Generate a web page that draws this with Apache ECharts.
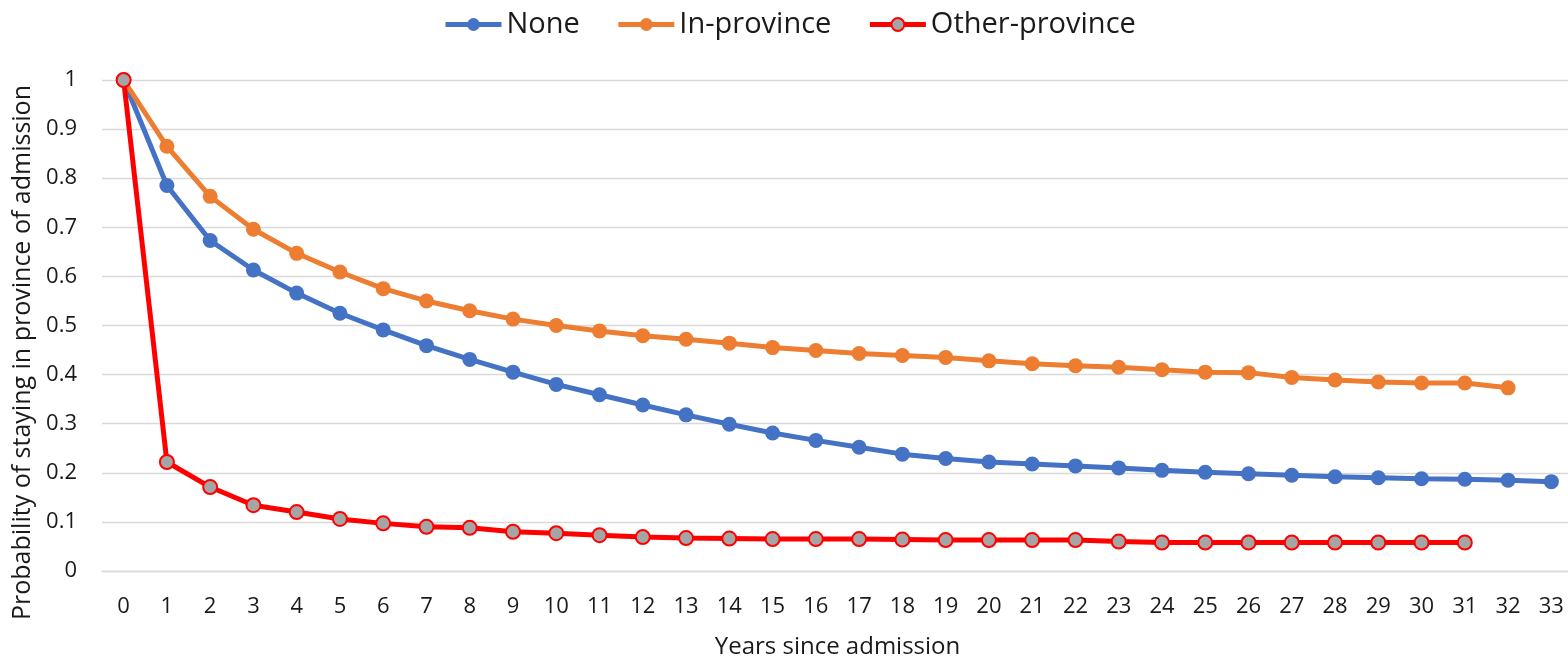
<!DOCTYPE html>
<html>
<head>
<meta charset="utf-8">
<script src="https://cdn.jsdelivr.net/npm/echarts@6/dist/echarts.min.js"></script>
<style>html,body{margin:0;padding:0;background:#fff}#c{width:1568px;height:660px}</style>
</head>
<body>
<div id="c"></div>
<script>
var years = [];
for (var i = 0; i <= 33; i++) years.push(String(i));

var seriesNames = ['None', 'In-province', 'Other-province'];
var noneVals = [1, 0.785, 0.673, 0.613, 0.566, 0.525, 0.491, 0.459, 0.431, 0.405, 0.380, 0.359, 0.338, 0.318, 0.299, 0.281, 0.266, 0.252, 0.238, 0.229, 0.222, 0.218, 0.214, 0.210, 0.205, 0.201, 0.198, 0.195, 0.192, 0.190, 0.188, 0.187, 0.185, 0.182];
var inProvVals = [1, 0.865, 0.763, 0.696, 0.647, 0.609, 0.575, 0.550, 0.530, 0.513, 0.500, 0.489, 0.479, 0.472, 0.464, 0.455, 0.449, 0.443, 0.439, 0.435, 0.428, 0.422, 0.418, 0.415, 0.410, 0.405, 0.404, 0.394, 0.389, 0.385, 0.383, 0.383, 0.373];
var otherProvVals = [1, 0.222, 0.171, 0.134, 0.120, 0.106, 0.097, 0.090, 0.088, 0.080, 0.077, 0.073, 0.069, 0.067, 0.066, 0.065, 0.065, 0.065, 0.064, 0.063, 0.063, 0.063, 0.063, 0.060, 0.058, 0.058, 0.058, 0.058, 0.058, 0.058, 0.058, 0.058];

var FONT = '"Open Sans", "Noto Sans", sans-serif';
var chart = echarts.init(document.getElementById('c'), null, {renderer: 'canvas'});
chart.setOption({
  animation: false,
  textStyle: {fontFamily: FONT, color: '#1a1a1a'},
  legend: {
    top: 5,
    left: 438,
    itemWidth: 56,
    itemHeight: 16,
    itemGap: 36,
    lineStyle: {width: 5},
    textStyle: {fontSize: 29, fontFamily: FONT, color: '#1a1a1a'},
    data: seriesNames
  },
  grid: {left: 102, right: -5, top: 80, bottom: 89, containLabel: false, outerBoundsMode: 'none'},
  xAxis: {
    type: 'category',
    data: years,
    boundaryGap: true,
    name: 'Years since admission',
    nameLocation: 'middle',
    nameGap: 64,
    nameTextStyle: {fontSize: 24, fontFamily: FONT, color: '#1a1a1a'},
    axisLine: {show: true, lineStyle: {color: '#D9D9D9', width: 1.3}},
    axisTick: {show: false},
    axisLabel: {interval: 0, margin: 25, fontSize: 22, fontFamily: FONT, color: '#1a1a1a'}
  },
  yAxis: {
    type: 'value',
    min: 0,
    max: 1,
    interval: 0.1,
    name: 'Probability of staying in province of admission',
    nameLocation: 'middle',
    nameRotate: 90,
    nameGap: 62,
    nameTextStyle: {fontSize: 25, fontFamily: FONT, color: '#1a1a1a', padding: [0, 54, 0, 0]},
    axisLine: {show: false},
    axisTick: {show: false},
    axisLabel: {margin: 25, fontSize: 22, fontFamily: FONT, color: '#1a1a1a'},
    splitLine: {lineStyle: {color: '#D9D9D9', width: 1.3}}
  },
  series: [
    {
      name: seriesNames[0], type: 'line', data: noneVals,
      symbol: 'circle', symbolSize: 15,
      lineStyle: {color: '#4472C4', width: 5},
      itemStyle: {color: '#4472C4'}
    },
    {
      name: seriesNames[1], type: 'line', data: inProvVals,
      symbol: 'circle', symbolSize: 15,
      lineStyle: {color: '#ED7D31', width: 5},
      itemStyle: {color: '#ED7D31'}
    },
    {
      name: seriesNames[2], type: 'line', data: otherProvVals,
      symbol: 'circle', symbolSize: 14,
      lineStyle: {color: '#FF0000', width: 5},
      itemStyle: {color: '#A5A5A5', borderColor: '#FF0000', borderWidth: 2}
    }
  ]
});
</script>
</body>
</html>
